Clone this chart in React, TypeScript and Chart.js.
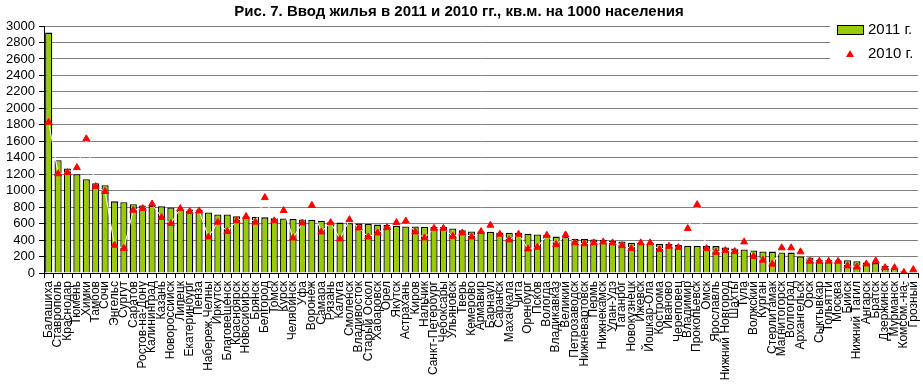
import React, { useEffect, useRef } from "react";
import { Chart, registerables } from "chart.js";

Chart.register(...registerables);

const categories: string[] = [
  "Балашиха", "Ставрополь", "Краснодар", "Тюмень", "Химки", "Тамбов", "Сочи", "Энгельс", "Сургут", "Саратов",
  "Ростов-на-Дону", "Калининград", "Казань", "Новороссийск", "Липецк", "Екатеринбург", "Пенза", "Набереж.Челны", "Иркутск", "Благовещенск",
  "Красноярск", "Новосибирск", "Брянск", "Белгород", "Томск", "Курск", "Челябинск", "Уфа", "Воронеж", "Самара",
  "Рязань", "Калуга", "Смоленск", "Владивосток", "Старый Оскол", "Хабаровск", "Орел", "Якутск", "Астрахань", "Киров",
  "Нальчик", "Санкт-Петербург", "Чебоксары", "Ульяновск", "Тверь", "Кемерово", "Армавир", "Барнаул", "Саранск", "Махачкала",
  "Чита", "Оренбург", "Псков", "Вологда", "Владикавказ", "Великий", "Петрозаводск", "Нижневартовск", "Пермь", "Нижнекамск",
  "Улан-Удэ", "Таганрог", "Новокузнецк", "Ижевск", "Йошкар-Ола", "Кострома", "Иваново", "Череповец", "Владимир", "Прокопьевск",
  "Омск", "Ярославль", "Нижний Новгород", "Шахты", "Тула", "Волжский", "Курган", "Стерлитамак", "Магнитогорск", "Волгоград",
  "Архангельск", "Орск", "Сыктывкар", "Тольятти", "Москва", "Бийск", "Нижний Тагил", "Ангарск", "Братск", "Дзержинск",
  "Мурманск", "Комсом.-на-", "Грозный",
];

const values2011: number[] = [
  2920, 1370, 1270, 1200, 1140, 1090, 1065, 870, 860, 835,
  820, 818, 812, 795, 775, 772, 768, 735, 712, 710,
  690, 684, 682, 676, 665, 662, 655, 650, 648, 636,
  615, 612, 605, 600, 596, 588, 584, 572, 566, 564,
  562, 560, 558, 540, 520, 505, 503, 500, 492, 490,
  488, 478, 467, 462, 442, 438, 415, 413, 406, 400,
  390, 382, 368, 367, 366, 354, 352, 341, 330, 329,
  328, 327, 309, 297, 285, 273, 262, 260, 250, 248,
  200, 188, 160, 158, 156, 154, 143, 128, 120, 85,
  55, 25, 12,
];

const values2010: number[] = [
  1830, 1205, 1220, 1280, 1630, 1050, 990, 337, 300, 763,
  783, 839, 674, 601, 783, 746, 754, 438, 617, 504,
  634, 687, 617, 916, 634, 759, 425, 607, 821, 499,
  612, 414, 648, 547, 438, 487, 551, 612, 632, 499,
  426, 543, 543, 446, 487, 438, 503, 580, 471, 402,
  471, 293, 313, 458, 345, 463, 366, 354, 366, 378,
  366, 333, 297, 366, 366, 285, 325, 309, 539, 830,
  297, 253, 273, 261, 378, 200, 156, 107, 306, 306,
  257, 143, 143, 143, 143, 86, 73, 110, 147, 65,
  65, 8, 41,
];

const seriesNames: string[] = ["2011 г.", "2010 г."];
const titleText = "Рис. 7. Ввод жилья в 2011 и 2010 гг., кв.м. на 1000 населения";

const FONT = "'Liberation Sans', Arial, sans-serif";
const GREEN = "#99CC00";

const overlayPlugin = {
  id: "overlay",
  afterDraw(chart: any) {
    const ctx = chart.ctx as CanvasRenderingContext2D;
    ctx.save();
    ctx.fillStyle = "#000";
    ctx.font = `bold 15px ${FONT}`;
    ctx.textAlign = "center";
    ctx.textBaseline = "middle";
    ctx.fillText(titleText, 459, 12);
    ctx.fillStyle = "#fff";
    ctx.fillRect(830, 18, 93, 52);
    ctx.fillStyle = GREEN;
    ctx.fillRect(837.5, 25.5, 26, 9);
    ctx.strokeStyle = "#000";
    ctx.lineWidth = 1;
    ctx.strokeRect(837.5, 25.5, 26, 9);
    ctx.fillStyle = "#FF0000";
    ctx.beginPath();
    ctx.moveTo(850, 50);
    ctx.lineTo(854, 57);
    ctx.lineTo(846, 57);
    ctx.closePath();
    ctx.fill();
    ctx.fillStyle = "#000";
    ctx.font = `15px ${FONT}`;
    ctx.textAlign = "left";
    ctx.textBaseline = "middle";
    ctx.fillText(seriesNames[0], 868, 30);
    ctx.fillText(seriesNames[1], 868, 54);
    ctx.restore();
  },
};

export default function App() {
  const ref = useRef<HTMLCanvasElement | null>(null);

  useEffect(() => {
    if (!ref.current) return;
    const chart = new Chart(ref.current, {
      type: "bar",
      data: {
        labels: categories,
        datasets: [
          {
            type: "line",
            label: seriesNames[1],
            data: values2010,
            borderColor: "#FFFFFF",
            borderWidth: 1,
            pointStyle: "triangle",
            pointRadius: 4,
            pointBackgroundColor: "#FF0000",
            pointBorderColor: "#FF0000",
            pointBorderWidth: 1,
            order: 0,
          } as any,
          {
            type: "bar",
            label: seriesNames[0],
            data: values2011,
            backgroundColor: GREEN,
            borderColor: "#000000",
            borderWidth: 1.3,
            categoryPercentage: 1,
            barPercentage: 0.76,
            order: 1,
          },
        ],
      },
      options: {
        responsive: false,
        animation: false,
        layout: { padding: { top: 26, right: 3, left: 0, bottom: 0 } },
        plugins: {
          legend: { display: false },
          title: { display: false },
          tooltip: { enabled: false },
        },
        scales: {
          x: {
            offset: true,
            grid: {
              offset: true,
              drawOnChartArea: false,
              drawTicks: true,
              tickLength: 5,
              color: "#000",
            },
            border: { display: true, color: "#000", width: 1 },
            ticks: {
              autoSkip: false,
              maxRotation: 90,
              minRotation: 90,
              padding: 3,
              color: "#000",
              font: { family: FONT, size: 12 },
            },
            afterFit(scale: any) {
              scale.height = 114;
              scale.paddingLeft = 0;
              scale.paddingRight = 0;
            },
          },
          y: {
            min: 0,
            max: 3000,
            ticks: {
              stepSize: 200,
              autoSkip: false,
              padding: 4,
              color: "#000",
              font: { family: FONT, size: 13 },
              callback: (v: any) => String(v),
            },
            grid: {
              color: "#808080",
              borderDash: [2, 2],
              tickBorderDash: [],
              tickColor: "#000",
              tickLength: 5,
            } as any,
            border: { display: true, color: "#000", width: 1 },
            afterFit(scale: any) {
              scale.width = 44;
              scale.paddingTop = 0;
              scale.paddingBottom = 0;
            },
          },
        },
      },
      plugins: [overlayPlugin],
    });
    return () => chart.destroy();
  }, []);

  return (
    <div style={{ position: "fixed", left: 0, top: 0, width: 923, height: 387, background: "#fff" }}>
      <canvas ref={ref} width={923} height={387} style={{ width: 923, height: 387 }} />
    </div>
  );
}
